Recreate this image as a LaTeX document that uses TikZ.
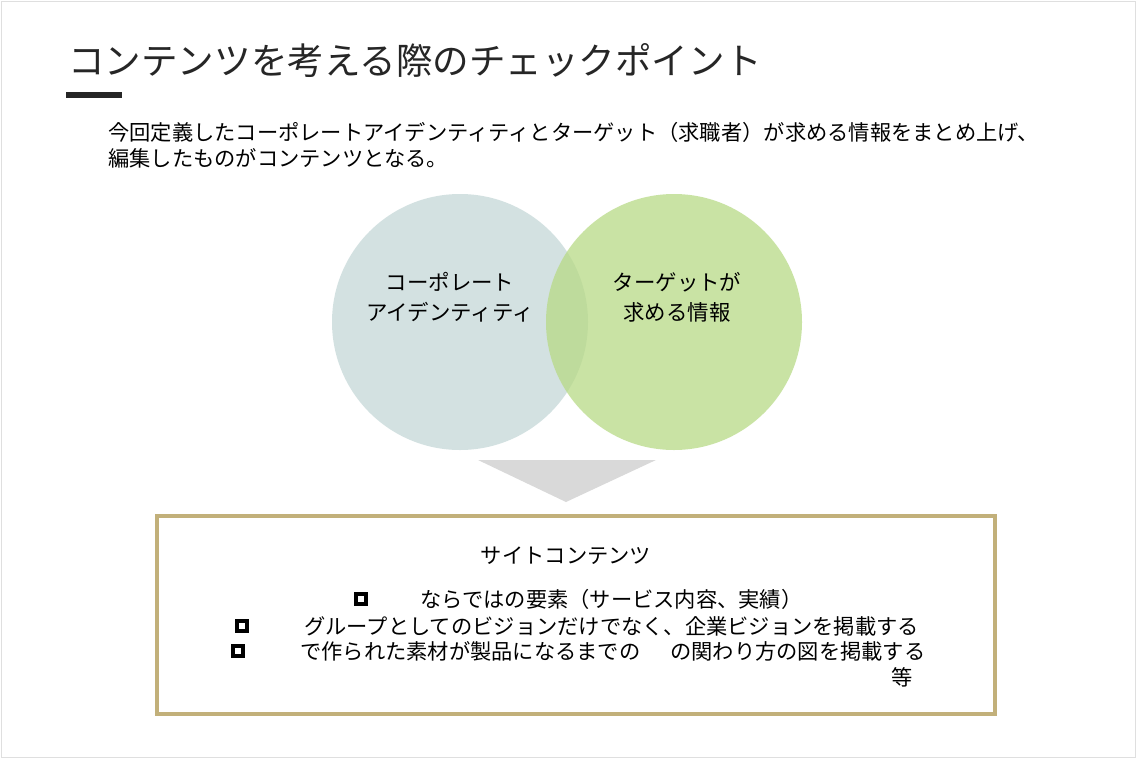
\documentclass[tikz,border=0pt]{standalone}
\usepackage{fontspec}
\setmainfont{Noto Sans CJK JP}
\begin{document}
\begin{tikzpicture}[x=0.02cm,y=-0.02cm,
  body/.style={font=\fontsize{12.1pt}{14pt}\selectfont,inner sep=0pt,anchor=west},
  bul/.style={draw=black,line width=1.8pt,minimum size=0.2cm,inner sep=0pt}]
\useasboundingbox (0,0) rectangle (1136,758);
\fill[white] (0,0) rectangle (1136,758);
\draw[gray!25] (1,1) rectangle (1135,757);
\node[anchor=west,inner sep=0pt,font=\fontsize{20.8pt}{24pt}\selectfont,text=black!85] (title) at (68,60) {コンテンツを考える際のチェックポイント};
\draw[line width=3pt,black!85] (66,95) -- (122,95);
\node[body] (l1) at (108,132) {今回定義したコーポレートアイデンティティとターゲット（求職者）が求める情報をまとめ上げ、};
\node[body] (l2) at (108,158) {編集したものがコンテンツとなる。};
\fill[fill={rgb,255:red,200;green,218;blue,218},opacity=0.8] (460,322) circle (128);
\fill[fill={rgb,255:red,184;green,218;blue,134},opacity=0.75] (674,322) circle (128);
\node[font=\fontsize{12.2pt}{17pt}\selectfont,align=center] (c1) at (450,297) {コーポレート\\アイデンティティ};
\node[font=\fontsize{12.2pt}{17pt}\selectfont,align=center] (c2) at (677,297) {ターゲットが\\求める情報};
\fill[gray!30] (478,460) -- (656,460) -- (566,502) -- cycle;
\draw[line width=2.2pt,draw={rgb,255:red,194;green,176;blue,122}] (157,516) rectangle (995,714);
\node[font=\fontsize{12.1pt}{14pt}\selectfont] (st) at (566,556) {サイトコンテンツ};
\node[bul] (b1) at (361,599) {};
\node[body] (t1) at (420,599) {ならではの要素（サービス内容、実績）};
\node[bul] (b2) at (242,626) {};
\node[body] (t2) at (304,626) {グループとしてのビジョンだけでなく、企業ビジョンを掲載する};
\node[bul] (b3) at (238,651) {};
\node[body] (t3) at (300,651) {で作られた素材が製品になるまでの};
\node[body] (t4) at (670,651) {の関わり方の図を掲載する};
\node[body] (t5) at (891,677) {等};
\end{tikzpicture}
\end{document}
